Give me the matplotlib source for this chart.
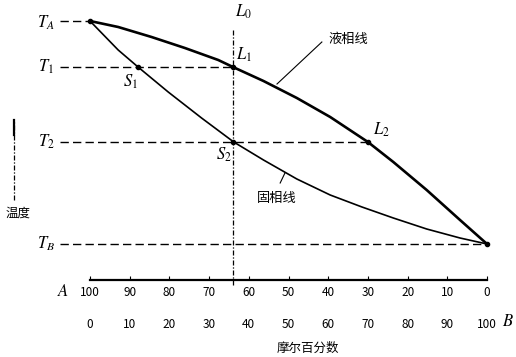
import matplotlib
matplotlib.use("Agg")
import matplotlib.pyplot as plt

plt.rcParams['font.family'] = ['Noto Sans CJK SC', 'DejaVu Sans']
plt.rcParams['mathtext.fontset'] = 'stix'

# mole percent of B along the liquid (upper) and solid (lower) curves
liquid_x = [0, 7.1, 15.5, 23.9, 32.3, 36.0, 43.7, 52.1, 60.5, 70.0, 76.4, 84.8, 93.2, 100]
liquid_t = [259, 253, 243, 232, 220, 213, 199, 182, 163, 138, 118, 90, 60, 36]
solid_x = [0, 7.1, 12.1, 19.7, 28.1, 36.2, 43.7, 52.1, 60.5, 68.5, 76.4, 84.8, 93.2, 100]
solid_t = [259, 230, 213, 188, 162, 138, 120, 101, 85, 73, 62, 51, 42, 36]

# characteristic temperatures
t_a, t_1, t_2, t_b = 259, 213, 138, 36
x0 = 36.1           # composition of L0
x_s1 = 12.1
x_l2 = 70.0

ticks_b = list(range(0, 101, 10))
ticks_a = [100 - v for v in ticks_b]

fig = plt.figure(figsize=(5.16, 3.57), dpi=100)
ax = fig.add_axes([0, 0, 1, 1])
ax.set_xlim(-22.67, 107.3)
ax.set_ylim(-77, 280)

for s in ['top', 'left', 'right']:
    ax.spines[s].set_visible(False)
ax.spines['bottom'].set_position(('data', 0))
ax.spines['bottom'].set_bounds(0, 100)
ax.spines['bottom'].set_linewidth(1.6)
ax.set_xticks(ticks_b)
ax.tick_params(axis='x', direction='in', length=3, width=0.8, labelbottom=False)
ax.set_yticks([])

# curves
ax.plot(liquid_x, liquid_t, color='black', lw=1.9, solid_joinstyle='round')
ax.plot(solid_x, solid_t, color='black', lw=1.2, solid_joinstyle='round')

# dashed isotherms
dash = dict(color='black', lw=1.0, dashes=(6, 3))
ax.plot([-7.5, 0], [t_a, t_a], **dash)
ax.plot([-7.5, x0], [t_1, t_1], **dash)
ax.plot([-7.5, x_l2], [t_2, t_2], **dash)
ax.plot([-7.5, 100], [t_b, t_b], **dash)

# L0 vertical line
ax.plot([x0, x0], [-5, 250], color='black', lw=0.9, dashes=(4, 1.5, 1, 1.5))
# temperature axis hint on the left
ax.plot([-19.2, -19.2], [80, 160], color='black', lw=0.9, dashes=(4, 1.5, 1, 1.5))
ax.plot([-19.2, -19.2], [145, 160], color='black', lw=1.6)

# points
ax.plot([0, x0, x_s1, x0, x_l2, 100], [t_a, t_1, t_1, t_2, t_2, t_b],
        'o', color='black', ms=3)

# labels
m = dict(fontsize=12, ha='center', va='center')
ax.text(-11, t_a - 2, r'$T_A$', **m)
ax.text(-11, t_1, r'$T_1$', **m)
ax.text(-11, t_2, r'$T_2$', **m)
ax.text(-11, t_b, r'$T_B$', **m)
ax.text(x0 + 2.6, 268, r'$L_0$', **m)
ax.text(x0 + 2.8, 225, r'$L_1$', **m)
ax.text(x_s1 - 2, 198, r'$S_1$', **m)
ax.text(x0 - 2.3, 125, r'$S_2$', **m)
ax.text(x_l2 + 3.5, 150, r'$L_2$', **m)

ax.text(65.0, 241, '液相线', fontsize=9.5, ha='center', va='center')
ax.plot([47.1, 58.4], [196, 238], color='black', lw=0.8)
ax.text(47.1, 82, '固相线', fontsize=9.5, ha='center', va='center')
ax.plot([47.9, 49.1], [97, 107], color='black', lw=0.8)
ax.text(-18.1, 67, '温度', fontsize=9, ha='center', va='center')

# composition scales
for b, a in zip(ticks_b, ticks_a):
    ax.text(b, -12, str(a), fontsize=8.5, ha='center', va='center')
    ax.text(b, -45, str(b), fontsize=8.5, ha='center', va='center')
ax.text(-6.8, -12, r'$A$', **m)
ax.text(105.3, -42, r'$B$', **m)
ax.text(55, -68, '摩尔百分数', fontsize=9, ha='center', va='center')

fig.savefig('out.png', dpi=100)
